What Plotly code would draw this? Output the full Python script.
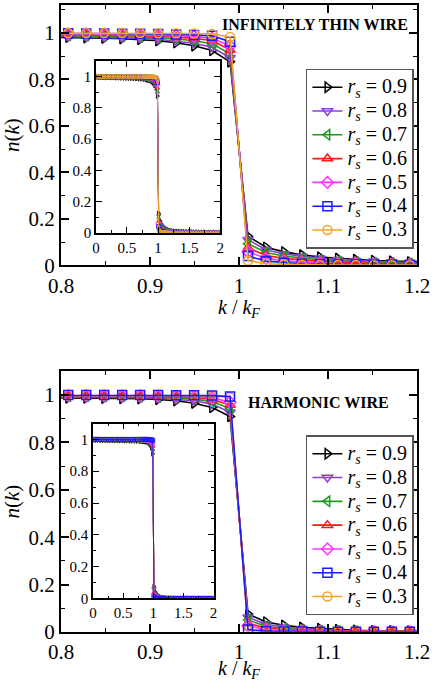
import plotly.graph_objects as go

# ---------------- data ----------------
k_far_left = [0.0101, 0.0505, 0.0909, 0.1313, 0.1717, 0.2121, 0.2525, 0.2929, 0.3333, 0.3737,
              0.4141, 0.4545, 0.4949, 0.5354, 0.5758, 0.6162, 0.6566, 0.6970, 0.7374, 0.7778]
k_main = [0.8081, 0.8283, 0.8485, 0.8687, 0.8889, 0.9091, 0.9293, 0.9495, 0.9697, 0.9899,
          1.0101, 1.0303, 1.0505, 1.0707, 1.0909, 1.1111, 1.1313, 1.1515, 1.1717, 1.1919]
k_far_right = [1.2222, 1.2626, 1.3030, 1.3434, 1.3838, 1.4242, 1.4646, 1.5051, 1.5455, 1.5859,
               1.6263, 1.6667, 1.7071, 1.7475, 1.7879, 1.8283, 1.8687, 1.9091, 1.9495, 1.9899]
k_all = k_far_left + k_main + k_far_right

rs_labels = ["0.9", "0.8", "0.7", "0.6", "0.5", "0.4", "0.3"]

# Infinitely thin wire n(k)
thin_rs09 = [0.995, 0.995, 0.995, 0.994, 0.994, 0.994, 0.993, 0.993, 0.992, 0.992, 0.991, 0.991, 0.990, 0.989, 0.989, 0.988, 0.987, 0.986, 0.985, 0.983,
             0.981, 0.979, 0.977, 0.975, 0.971, 0.966, 0.957, 0.944, 0.924, 0.875,
             0.125, 0.078, 0.058, 0.045, 0.036, 0.030, 0.025, 0.021, 0.018, 0.015,
             0.013, 0.011, 0.010, 0.009, 0.008, 0.007, 0.007, 0.006, 0.006, 0.005, 0.005, 0.004, 0.004, 0.004, 0.003, 0.003, 0.003, 0.003, 0.002, 0.002]
thin_rs08 = [0.996, 0.996, 0.996, 0.996, 0.995, 0.995, 0.995, 0.994, 0.994, 0.994, 0.993, 0.993, 0.992, 0.992, 0.991, 0.991, 0.990, 0.989, 0.988, 0.986,
             0.984, 0.983, 0.981, 0.979, 0.976, 0.972, 0.965, 0.955, 0.938, 0.893,
             0.110, 0.067, 0.049, 0.038, 0.030, 0.024, 0.020, 0.017, 0.014, 0.012,
             0.010, 0.009, 0.008, 0.007, 0.006, 0.006, 0.005, 0.005, 0.004, 0.004, 0.004, 0.003, 0.003, 0.003, 0.002, 0.002, 0.002, 0.002, 0.002, 0.001]
thin_rs07 = [0.997, 0.997, 0.997, 0.997, 0.997, 0.996, 0.996, 0.996, 0.996, 0.995, 0.995, 0.995, 0.994, 0.994, 0.993, 0.993, 0.992, 0.992, 0.991, 0.990,
             0.988, 0.987, 0.986, 0.984, 0.982, 0.979, 0.974, 0.966, 0.953, 0.910,
             0.093, 0.055, 0.040, 0.030, 0.023, 0.018, 0.015, 0.012, 0.010, 0.009,
             0.008, 0.007, 0.006, 0.005, 0.005, 0.004, 0.004, 0.003, 0.003, 0.003, 0.003, 0.002, 0.002, 0.002, 0.002, 0.002, 0.001, 0.001, 0.001, 0.001]
thin_rs06 = [0.998, 0.998, 0.998, 0.998, 0.998, 0.998, 0.997, 0.997, 0.997, 0.997, 0.997, 0.996, 0.996, 0.996, 0.995, 0.995, 0.995, 0.994, 0.994, 0.993,
             0.992, 0.991, 0.990, 0.989, 0.987, 0.985, 0.981, 0.976, 0.967, 0.926,
             0.075, 0.042, 0.030, 0.022, 0.017, 0.013, 0.010, 0.008, 0.007, 0.006,
             0.005, 0.004, 0.004, 0.003, 0.003, 0.003, 0.002, 0.002, 0.002, 0.002, 0.002, 0.001, 0.001, 0.001, 0.001, 0.001, 0.001, 0.001, 0.001, 0.001]
thin_rs05 = [0.999, 0.999, 0.999, 0.999, 0.999, 0.999, 0.998, 0.998, 0.998, 0.998, 0.998, 0.998, 0.998, 0.997, 0.997, 0.997, 0.997, 0.996, 0.996, 0.996,
             0.995, 0.995, 0.994, 0.993, 0.992, 0.990, 0.988, 0.984, 0.977, 0.943,
             0.058, 0.030, 0.020, 0.014, 0.010, 0.008, 0.006, 0.005, 0.004, 0.003,
             0.003, 0.002, 0.002, 0.002, 0.002, 0.001, 0.001, 0.001, 0.001, 0.001, 0.001, 0.001, 0.001, 0.001, 0.000, 0.000, 0.000, 0.000, 0.000, 0.000]
thin_rs04 = [1.000, 1.000, 1.000, 1.000, 0.999, 0.999, 0.999, 0.999, 0.999, 0.999, 0.999, 0.999, 0.999, 0.999, 0.999, 0.999, 0.998, 0.998, 0.998, 0.998,
             0.998, 0.997, 0.997, 0.996, 0.996, 0.995, 0.993, 0.991, 0.987, 0.962,
             0.040, 0.018, 0.011, 0.007, 0.005, 0.004, 0.003, 0.002, 0.002, 0.001,
             0.001, 0.001, 0.001, 0.001, 0.001, 0.000, 0.000, 0.000, 0.000, 0.000, 0.000, 0.000, 0.000, 0.000, 0.000, 0.000, 0.000, 0.000, 0.000, 0.000]
thin_rs03 = [1.000, 1.000, 1.000, 1.000, 1.000, 1.000, 1.000, 1.000, 1.000, 1.000, 1.000, 1.000, 1.000, 1.000, 1.000, 1.000, 1.000, 1.000, 1.000, 1.000,
             0.999, 0.999, 0.999, 0.999, 0.999, 0.998, 0.998, 0.997, 0.995, 0.982,
             0.020, 0.007, 0.004, 0.002, 0.001, 0.001, 0.001, 0.000, 0.000, 0.000,
             0.000, 0.000, 0.000, 0.000, 0.000, 0.000, 0.000, 0.000, 0.000, 0.000, 0.000, 0.000, 0.000, 0.000, 0.000, 0.000, 0.000, 0.000, 0.000, 0.000]

# Harmonic wire n(k)
harm_rs09 = [0.996, 0.996, 0.996, 0.995, 0.995, 0.995, 0.995, 0.994, 0.994, 0.994, 0.993, 0.993, 0.993, 0.992, 0.992, 0.991, 0.991, 0.990, 0.990, 0.989,
             0.988, 0.988, 0.987, 0.986, 0.985, 0.982, 0.976, 0.966, 0.948, 0.910,
             0.075, 0.042, 0.028, 0.019, 0.014, 0.010, 0.007, 0.005, 0.004, 0.003,
             0.002, 0.002, 0.002, 0.001, 0.001, 0.001, 0.001, 0.001, 0.001, 0.001, 0.001, 0.000, 0.000, 0.000, 0.000, 0.000, 0.000, 0.000, 0.000, 0.000]
harm_rs08 = [0.997, 0.997, 0.997, 0.997, 0.996, 0.996, 0.996, 0.996, 0.996, 0.995, 0.995, 0.995, 0.995, 0.994, 0.994, 0.994, 0.993, 0.993, 0.993, 0.992,
             0.992, 0.991, 0.991, 0.990, 0.989, 0.987, 0.983, 0.976, 0.962, 0.928,
             0.062, 0.032, 0.020, 0.013, 0.009, 0.006, 0.004, 0.003, 0.002, 0.002,
             0.001, 0.001, 0.001, 0.001, 0.001, 0.001, 0.000, 0.000, 0.000, 0.000, 0.000, 0.000, 0.000, 0.000, 0.000, 0.000, 0.000, 0.000, 0.000, 0.000]
harm_rs07 = [0.998, 0.998, 0.998, 0.998, 0.998, 0.997, 0.997, 0.997, 0.997, 0.997, 0.997, 0.996, 0.996, 0.996, 0.996, 0.996, 0.995, 0.995, 0.995, 0.995,
             0.994, 0.994, 0.993, 0.993, 0.992, 0.991, 0.988, 0.983, 0.973, 0.943,
             0.050, 0.024, 0.014, 0.009, 0.006, 0.004, 0.003, 0.002, 0.001, 0.001,
             0.001, 0.001, 0.001, 0.000, 0.000, 0.000, 0.000, 0.000, 0.000, 0.000, 0.000, 0.000, 0.000, 0.000, 0.000, 0.000, 0.000, 0.000, 0.000, 0.000]
harm_rs06 = [0.999, 0.999, 0.999, 0.999, 0.999, 0.999, 0.998, 0.998, 0.998, 0.998, 0.998, 0.998, 0.998, 0.998, 0.997, 0.997, 0.997, 0.997, 0.997, 0.997,
             0.996, 0.996, 0.996, 0.995, 0.995, 0.994, 0.992, 0.989, 0.982, 0.958,
             0.036, 0.016, 0.009, 0.005, 0.003, 0.002, 0.002, 0.001, 0.001, 0.001,
             0.000, 0.000, 0.000, 0.000, 0.000, 0.000, 0.000, 0.000, 0.000, 0.000, 0.000, 0.000, 0.000, 0.000, 0.000, 0.000, 0.000, 0.000, 0.000, 0.000]
harm_rs05 = [1.000, 1.000, 1.000, 0.999, 0.999, 0.999, 0.999, 0.999, 0.999, 0.999, 0.999, 0.999, 0.999, 0.999, 0.999, 0.999, 0.998, 0.998, 0.998, 0.998,
             0.998, 0.998, 0.997, 0.997, 0.997, 0.996, 0.995, 0.993, 0.989, 0.970,
             0.025, 0.010, 0.005, 0.003, 0.002, 0.001, 0.001, 0.001, 0.000, 0.000,
             0.000, 0.000, 0.000, 0.000, 0.000, 0.000, 0.000, 0.000, 0.000, 0.000, 0.000, 0.000, 0.000, 0.000, 0.000, 0.000, 0.000, 0.000, 0.000, 0.000]
harm_rs04 = [1.000, 1.000, 1.000, 1.000, 1.000, 1.000, 1.000, 1.000, 1.000, 1.000, 1.000, 1.000, 1.000, 1.000, 1.000, 1.000, 1.000, 1.000, 1.000, 1.000,
             1.000, 1.000, 1.000, 1.000, 1.000, 1.000, 0.999, 0.999, 0.998, 0.994,
             0.010, 0.003, 0.001, 0.001, 0.000, 0.000, 0.000, 0.000, 0.000, 0.000,
             0.000, 0.000, 0.000, 0.000, 0.000, 0.000, 0.000, 0.000, 0.000, 0.000, 0.000, 0.000, 0.000, 0.000, 0.000, 0.000, 0.000, 0.000, 0.000, 0.000]
harm_rs03 = [1.000, 1.000, 1.000, 1.000, 1.000, 1.000, 1.000, 1.000, 1.000, 1.000, 1.000, 1.000, 1.000, 1.000, 1.000, 1.000, 1.000, 1.000, 1.000, 1.000,
             0.999, 0.999, 0.999, 0.999, 0.999, 0.999, 0.999, 0.998, 0.997, 0.990,
             0.005, 0.001, 0.000, 0.000, 0.000, 0.000, 0.000, 0.000, 0.000, 0.000,
             0.000, 0.000, 0.000, 0.000, 0.000, 0.000, 0.000, 0.000, 0.000, 0.000, 0.000, 0.000, 0.000, 0.000, 0.000, 0.000, 0.000, 0.000, 0.000, 0.000]

thin_series = [thin_rs09, thin_rs08, thin_rs07, thin_rs06, thin_rs05, thin_rs04, thin_rs03]
harm_series = [harm_rs09, harm_rs08, harm_rs07, harm_rs06, harm_rs05, harm_rs04, harm_rs03]

# ---------------- styles ----------------
colors = ["#000000", "#8a3fd6", "#1e9a1e", "#ff1a1a", "#ff33ff", "#1a1aff", "#f5a623"]
symbols = ["triangle-right-open", "triangle-down-open", "triangle-left-open",
           "triangle-up-open", "diamond-open", "square-open", "circle-open"]
SERIF = "Liberation Serif"

fig = go.Figure()

def add_panel(series, xa_main, ya_main, xa_in, ya_in, legend_name, draw_order):
    for i in draw_order:
        y = series[i]
        name = ("<span style='font-size:20px'><i>r</i><sub><i>s</i></sub> = "
                + rs_labels[i] + "</span>")
        fig.add_trace(go.Scatter(
            x=k_all, y=y, mode="lines+markers", name=name,
            xaxis=xa_main, yaxis=ya_main, legend=legend_name, legendrank=i + 1,
            line=dict(color=colors[i], width=1.6),
            marker=dict(symbol=symbols[i], size=9, color=colors[i],
                        line=dict(color=colors[i], width=1.5)),
        ))
        fig.add_trace(go.Scatter(
            x=k_all, y=y, mode="lines+markers", showlegend=False,
            xaxis=xa_in, yaxis=ya_in,
            line=dict(color=colors[i], width=1),
            marker=dict(symbol=symbols[i], size=4, color=colors[i],
                        line=dict(color=colors[i], width=1)),
        ))

add_panel(thin_series, "x", "y", "x2", "y2", "legend", [0, 1, 2, 3, 4, 5, 6])
add_panel(harm_series, "x3", "y3", "x4", "y4", "legend2", [0, 1, 2, 3, 4, 6, 5])

W, H = 447, 693
def dx(a, b):
    return [a / W, b / W]
def dy(top, bottom):
    return [1 - bottom / H, 1 - top / H]

def main_x(domain, anchor):
    return dict(domain=domain, anchor=anchor, range=[0.8, 1.2], tick0=0.8, dtick=0.1,
                ticks="inside", ticklen=8, tickwidth=1.5, tickcolor="black",
                minor=dict(ticks="inside", dtick=0.05, ticklen=4, tickwidth=1.2, tickcolor="black"),
                showline=True, linewidth=2, linecolor="black", mirror="allticks",
                showgrid=False, zeroline=False,
                tickfont=dict(family=SERIF, size=21, color="black"))

def main_y(domain, anchor, top):
    return dict(domain=domain, anchor=anchor, range=[0, top], tick0=0, dtick=0.2,
                ticks="inside", ticklen=8, tickwidth=1.5, tickcolor="black",
                minor=dict(ticks="inside", dtick=0.1, ticklen=4, tickwidth=1.2, tickcolor="black"),
                showline=True, linewidth=2, linecolor="black", mirror="allticks",
                showgrid=False, zeroline=False,
                tickfont=dict(family=SERIF, size=21, color="black"),
                title=dict(text="<i>n</i>(<i>k</i>)",
                           font=dict(family=SERIF, size=21, color="black"), standoff=6))

def inset_x(domain, anchor):
    return dict(domain=domain, anchor=anchor, range=[0, 2], tick0=0, dtick=0.5,
                ticks="inside", ticklen=6, tickwidth=1.2, tickcolor="black",
                minor=dict(ticks="inside", dtick=0.25, ticklen=3, tickwidth=1, tickcolor="black"),
                showline=True, linewidth=1.5, linecolor="black", mirror="allticks",
                showgrid=False, zeroline=False,
                tickfont=dict(family=SERIF, size=15, color="black"))

def inset_y(domain, anchor, top):
    return dict(domain=domain, anchor=anchor, range=[0, top], tick0=0, dtick=0.2,
                ticks="inside", ticklen=6, tickwidth=1.2, tickcolor="black",
                minor=dict(ticks="inside", dtick=0.1, ticklen=3, tickwidth=1, tickcolor="black"),
                showline=True, linewidth=1.5, linecolor="black", mirror="allticks",
                showgrid=False, zeroline=False,
                tickfont=dict(family=SERIF, size=15, color="black"))

legend_style = dict(font=dict(family=SERIF, size=16, color="black"),
                    bgcolor="white", bordercolor="#555555", borderwidth=1.5,
                    xref="paper", yref="paper", xanchor="left", yanchor="top",
                    itemwidth=30, tracegroupgap=0)

xtitle = "<i>k</i> / <i>k</i><sub><i>F</i></sub>"
fig.update_layout(
    width=W, height=H,
    margin=dict(l=0, r=0, t=0, b=0),
    paper_bgcolor="white", plot_bgcolor="white",
    xaxis=main_x(dx(51, 429), "y"),
    yaxis=main_y(dy(5, 270), "x", 1.12),
    xaxis2=inset_x(dx(88, 220), "y2"),
    yaxis2=inset_y(dy(62, 237), "x2", 1.1),
    xaxis3=main_x(dx(51, 429), "y3"),
    yaxis3=main_y(dy(378, 643), "x3", 1.1),
    xaxis4=inset_x(dx(85, 213), "y4"),
    yaxis4=inset_y(dy(431, 609), "x4", 1.1),
    legend=dict(x=311 / W, y=1 - 70 / H, **legend_style),
    legend2=dict(x=311 / W, y=1 - 443 / H, **legend_style),
    annotations=[
        dict(text="<b>INFINITELY THIN WIRE</b>", xref="paper", yref="paper",
             x=421 / W, y=1 - 25 / H, xanchor="right", yanchor="middle", showarrow=False,
             font=dict(family=SERIF, size=16, color="black")),
        dict(text="<b>HARMONIC WIRE</b>", xref="paper", yref="paper",
             x=324 / W, y=1 - 410 / H, xanchor="center", yanchor="middle", showarrow=False,
             font=dict(family=SERIF, size=16, color="black")),
        dict(text=xtitle, xref="paper", yref="paper",
             x=240 / W, y=1 - 299 / H, xanchor="center", yanchor="top", showarrow=False,
             font=dict(family=SERIF, size=20, color="black")),
        dict(text=xtitle, xref="paper", yref="paper",
             x=240 / W, y=1 - 667 / H, xanchor="center", yanchor="top", showarrow=False,
             font=dict(family=SERIF, size=20, color="black")),
    ],
)

fig.write_html("out.html")
